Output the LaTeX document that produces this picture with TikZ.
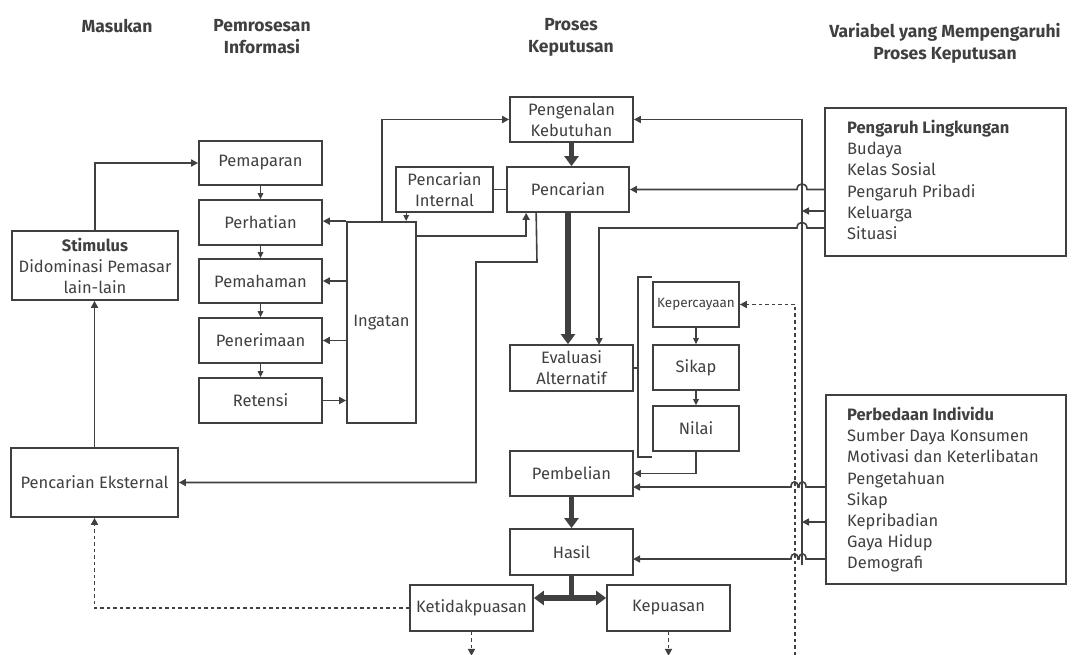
\documentclass[tikz,border=0pt]{standalone}
\usepackage{fontspec}
\setmainfont{Fira Sans}
\usetikzlibrary{arrows.meta}
\definecolor{ln}{HTML}{404040}
\definecolor{tx}{HTML}{404040}
\newcommand\boxnode[6]{\node[box, minimum width={#4pt-#2pt}, minimum height={#5pt-#3pt}] (#1) at ({(#2+#4)/2},{(#3+#5)/2}) {#6};}
\begin{document}
\begin{tikzpicture}[x=1pt,y=-1pt,
  box/.style={draw=ln, line width=1.7pt, fill=white, inner sep=0pt, align=center, text=tx, font=\fontsize{16.5}{21}\selectfont},
  wire/.style={draw=ln, line width=1.6pt},
  arr/.style={wire, -{Triangle[length=7pt,width=7pt]}},
  sarr/.style={draw=ln, line width=1.3pt, -{Triangle[length=6pt,width=5.5pt]}},
  tarr/.style={draw=ln, line width=5.5pt, -{Triangle[length=10pt,width=14pt]}},
  twire/.style={draw=ln, line width=5.5pt},
  darr/.style={wire, dash pattern=on 3.5pt off 3pt, -{Triangle[length=7pt,width=7pt]}},
  hdr/.style={text=tx, font=\bfseries\fontsize{17.5}{22}\selectfont, align=center, inner sep=0pt},
  plain/.style={text=tx, font=\fontsize{16.5}{21.2}\selectfont, align=left, inner sep=0pt},
]
\fill[white] (0,0) rectangle (1077,655);
\useasboundingbox (0,0) rectangle (1077,655);

% headers
\node[hdr] (h1) at (117,26) {Masukan};
\node[hdr] (h2) at (262,37) {Pemrosesan\\Informasi};
\node[hdr] (h3) at (571,37) {Proses\\Keputusan};
\node[hdr] (h4) at (945,43) {Variabel yang Mempengaruhi\\Proses Keputusan};

% boxes
\boxnode{pemaparan}{199}{141}{322}{185}{Pemaparan}
\boxnode{perhatian}{199}{200}{322}{245}{Perhatian}
\boxnode{pemahaman}{199}{259}{322}{303}{Pemahaman}
\boxnode{penerimaan}{199}{318}{322}{363}{Penerimaan}
\boxnode{retensi}{199}{378}{322}{423}{Retensi}
\boxnode{stimulus}{12}{231}{178}{300}{\textbf{Stimulus}\\Didominasi Pemasar\\lain-lain}
\boxnode{ingatan}{347}{222}{416}{423}{Ingatan}
\boxnode{pinternal}{396}{167}{493}{212}{Pencarian\\Internal}
\boxnode{pengenalan}{510}{97}{633}{142}{Pengenalan\\Kebutuhan}
\boxnode{pencarian}{507}{167}{629}{212}{Pencarian}
\boxnode{evaluasi}{510}{345}{633}{391}{Evaluasi\\Alternatif}
\boxnode{kepercayaan}{653}{282}{739}{327}{\fontsize{13.5}{16}\selectfont Kepercayaan}
\boxnode{sikap}{653}{345}{739}{390}{Sikap}
\boxnode{nilai}{653}{406}{739}{451}{Nilai}
\boxnode{pembelian}{510}{451}{633}{496}{Pembelian}
\boxnode{hasil}{510}{529}{633}{575}{Hasil}
\boxnode{kepuasan}{607}{585}{730}{631}{Kepuasan}
\boxnode{ketidakpuasan}{410}{585}{533}{631}{Ketidakpuasan}
\boxnode{peksternal}{11}{448}{178}{517}{Pencarian Eksternal}
\boxnode{lingkungan}{825}{108}{1066}{256}{}
\boxnode{individu}{826}{395}{1066}{584}{}
\node[plain, anchor=north west] (tl) at (847,120) {\textbf{Pengaruh Lingkungan}\\Budaya\\Kelas Sosial\\Pengaruh Pribadi\\Keluarga\\Situasi};
\node[plain, anchor=north west] (ti) at (847,407) {\textbf{Perbedaan Individu}\\Sumber Daya Konsumen\\Motivasi dan Keterlibatan\\Pengetahuan\\Sikap\\Kepribadian\\Gaya Hidup\\Demografi};

% left column
\draw[arr] (stimulus.north) |- (pemaparan.west);
\draw[arr] (peksternal.north) -- (peksternal.north |- stimulus.south);
\draw[sarr] (pemaparan) -- (perhatian);
\draw[sarr] (perhatian) -- (pemahaman);
\draw[sarr] (pemahaman) -- (penerimaan);
\draw[sarr] (penerimaan) -- (retensi);
\draw[arr] (ingatan.north west) -- (perhatian.east |- ingatan.north west);
\draw[arr] (ingatan.west |- pemahaman.east) -- (pemahaman.east);
\draw[arr] (ingatan.west |- penerimaan.east) -- (penerimaan.east);
\draw[arr] (retensi.east) -- (ingatan.west |- retensi.east);

% memory links
\draw[arr] ([xshift=36pt]ingatan.north west) |- (pengenalan.west);
\draw[sarr] ([xshift=11pt]pinternal.south west) -- ([xshift=11pt]pinternal.south west |- ingatan.north);
\draw[wire] (pinternal.east) -- (pencarian.west);
\draw[arr] ([yshift=-15pt]ingatan.north east) -| ([xshift=20pt]pencarian.south west);
\coordinate (pe1) at (537,262);
\coordinate (pe2) at (476,262);
\draw[arr] ([xshift=30pt]pencarian.south west) -- (pe1) -- (pe2) -- (pe2 |- peksternal.east) -- (peksternal.east);

% main decision flow
\draw[tarr] (pengenalan.south) -- (pengenalan.south |- pencarian.north);
\draw[tarr] (pencarian.south) -- (pencarian.south |- evaluasi.north);
\draw[tarr] (pembelian.south) -- (hasil.north);
\coordinate (hb) at (571.5,598);
\draw[twire] (hasil.south) -- (hb);
\draw[tarr] (hb) -- (ketidakpuasan.east |- hb);
\draw[tarr] (hb) -- (kepuasan.west |- hb);

% beliefs bracket
\coordinate (brT) at (638,277);
\coordinate (brB) at (638,457);
\draw[wire] (kepercayaan.west |- brT) -- (brT) -- (brB) -- (kepercayaan.west |- brB);
\draw[wire] (evaluasi.east) -- (brT |- evaluasi.east);
\draw[sarr] (kepercayaan) -- (sikap);
\draw[sarr] (sikap) -- (nilai);
\draw[arr] (nilai.south) |- (pembelian.east);

% feedback dotted
\draw[darr] (ketidakpuasan.west) -| (peksternal.south);
\draw[darr] (ketidakpuasan.south) -- ++(0,24);
\draw[darr] (kepuasan.south) -- ++(0,24);
\coordinate (dotB) at (795,655);
\draw[darr] (dotB) |- (kepercayaan.east);

% influence bus
\coordinate (busB) at (802,565);
\draw[arr] (busB) -- (busB |- pengenalan.east) -- (pengenalan.east);
\draw[arr] (lingkungan.west |- 0,211) -- (busB |- 0,211);
\draw[arr] (individu.west |- 0,522) -- (busB |- 0,522);

% environment lines with hops
\draw[arr] (825,189.5) -- (807,189.5) .. controls (807,182) and (797,182) .. (797,189.5) -- (pencarian.east);
\draw[arr] (825,228) -- (807,228) .. controls (807,220.5) and (797,220.5) .. (797,228) -- (599,228) -- (599,345);

% individual lines with double hops
\draw[arr] (826,487) -- (806,487) .. controls (806,480) and (799,480) .. (799,487) -- (798,487) .. controls (798,480) and (791,480) .. (791,487) -- (633,487);
\draw[arr] (826,559) -- (806,559) .. controls (806,552) and (799,552) .. (799,559) -- (798,559) .. controls (798,552) and (791,552) .. (791,559) -- (633,559);
\end{tikzpicture}
\end{document}
